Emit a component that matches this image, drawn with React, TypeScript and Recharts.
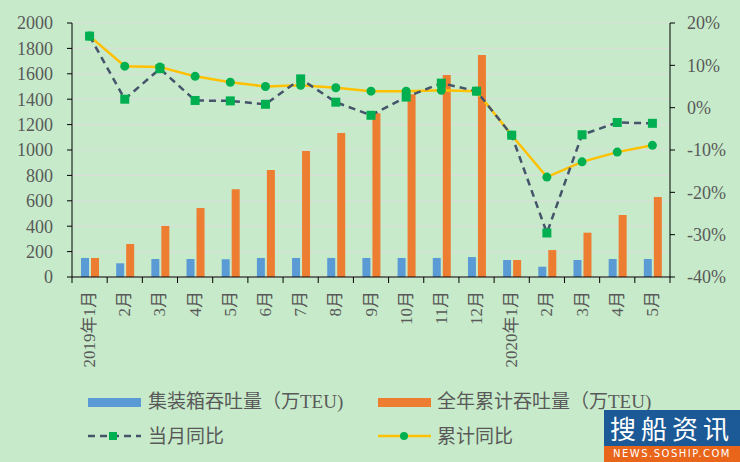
import React from "react";
import {
  ComposedChart, Bar, Line, XAxis, YAxis, CartesianGrid,
} from "recharts";

const months = [
  "2019年1月", "2月", "3月", "4月", "5月", "6月", "7月", "8月", "9月",
  "10月", "11月", "12月", "2020年1月", "2月", "3月", "4月", "5月",
];
// 集装箱吞吐量（万TEU）
const monthly = [150, 108, 142, 142, 140, 150, 150, 150, 150, 150, 150, 157, 134, 81, 134, 142, 142];
// 全年累计吞吐量（万TEU）
const cumulative = [150, 260, 402, 543, 690, 842, 992, 1134, 1290, 1438, 1590, 1748, 134, 212, 349, 488, 630];
// 当月同比 (%)
const monthYoy = [16.9, 2.0, 9.2, 1.7, 1.6, 0.8, 6.8, 1.3, -1.8, 2.5, 5.8, 3.9, -6.5, -29.6, -6.4, -3.5, -3.7];
// 累计同比 (%)
const cumYoy = [16.9, 9.8, 9.6, 7.4, 6.0, 5.0, 5.3, 4.7, 3.9, 3.9, 4.1, 3.9, -6.5, -16.4, -12.8, -10.5, -8.9];

const leftTicks = [0, 200, 400, 600, 800, 1000, 1200, 1400, 1600, 1800, 2000];
const rightTicks = [-40, -30, -20, -10, 0, 10, 20];

const data = months.map((m, i) => ({
  month: m,
  monthly: monthly[i],
  cumulative: cumulative[i],
  monthYoy: monthYoy[i],
  cumYoy: cumYoy[i],
}));

const W = 740;
const H = 462;
const LEFT_W = 72;
const RIGHT_W = 70;
const BAND = (W - LEFT_W - RIGHT_W) / months.length;
const FONT = "'Liberation Serif', 'Noto Sans CJK SC', serif";
const BG = "#C7EBCA";

const MonthTick = (props: any) => {
  const { x, y, payload, index } = props;
  const last = index === months.length - 1;
  return (
    <g>
      <line x1={x - BAND / 2} x2={x - BAND / 2} y1={y} y2={y + 6} stroke="#000" />
      {last && <line x1={x + BAND / 2} x2={x + BAND / 2} y1={y} y2={y + 6} stroke="#000" />}
      <text
        x={x}
        y={y + 14}
        transform={`rotate(-90, ${x}, ${y + 14})`}
        textAnchor="end"
        dominantBaseline="central"
        fontSize={17}
        fontFamily={FONT}
        fill="#595959"
      >
        {payload.value}
      </text>
    </g>
  );
};

const SquareDot = (props: any) => {
  const { cx, cy } = props;
  if (cx == null || cy == null) return null;
  return <rect x={cx - 4.5} y={cy - 4.5} width={9} height={9} fill="#00B050" />;
};

function LegendRow() {
  const txt = { fontSize: 19, fontFamily: FONT, fill: "#595959" };
  return (
    <svg width={W} height={70} style={{ position: "absolute", left: 0, top: 385 }}>
      <rect x={88} y={13} width={53} height={9} fill="#5B9BD5" />
      <text x={148} y={16} dominantBaseline="central" {...txt}>集装箱吞吐量（万TEU)</text>
      <rect x={378} y={13} width={53} height={9} fill="#ED7D31" />
      <text x={437} y={16} dominantBaseline="central" {...txt}>全年累计吞吐量（万TEU)</text>

      <line x1={88} x2={141} y1={51} y2={51} stroke="#44546A" strokeWidth={2.5} strokeDasharray="7 5" />
      <rect x={109} y={47} width={8} height={8} fill="#00B050" />
      <text x={148} y={51} dominantBaseline="central" {...txt}>当月同比</text>
      <line x1={378} x2={431} y1={51} y2={51} stroke="#FFC000" strokeWidth={2.5} />
      <circle cx={404} cy={51} r={4} fill="#00B050" />
      <text x={437} y={51} dominantBaseline="central" {...txt}>累计同比</text>
    </svg>
  );
}

function Watermark() {
  return (
    <div style={{ position: "absolute", left: 604, top: 410, width: 136, height: 52 }}>
      <div
        style={{
          height: 36, background: "#1B5A96", color: "#fff", fontSize: 26,
          fontFamily: "'Noto Sans CJK SC', sans-serif", lineHeight: "36px",
          textAlign: "center", letterSpacing: 5, overflow: "hidden",
        }}
      >
        搜船资讯
      </div>
      <div
        style={{
          height: 16, background: "#E8651A", color: "#fff", fontSize: 10,
          fontFamily: "'DejaVu Sans', sans-serif", lineHeight: "16px",
          textAlign: "center", letterSpacing: 1.5, overflow: "hidden",
        }}
      >
        NEWS.SOSHIP.COM
      </div>
    </div>
  );
}

export default function App() {
  return (
    <div style={{ position: "absolute", left: 0, top: 0, width: W, height: H, background: BG, overflow: "hidden" }}>
      <ComposedChart
        width={W}
        height={H}
        data={data}
        margin={{ top: 23, right: 0, bottom: 0, left: 0 }}
        barSize={8}
        barGap={2}
      >
        <CartesianGrid yAxisId="left" vertical={false} stroke="#D9DED9" strokeWidth={1.2} />
        <XAxis
          dataKey="month"
          interval={0}
          height={185}
          tickLine={false}
          tickSize={0}
          tickMargin={0}
          tick={<MonthTick />}
          axisLine={{ stroke: "#000" }}
        />
        <YAxis
          yAxisId="left"
          width={LEFT_W}
          domain={[0, 2000]}
          ticks={leftTicks}
          interval={0}
          tickSize={5}
          tickMargin={14}
          axisLine={{ stroke: "#000" }}
          tickLine={{ stroke: "#000" }}
          tick={{ fontSize: 18, fontFamily: FONT, fill: "#595959" }}
        />
        <YAxis
          yAxisId="right"
          orientation="right"
          width={RIGHT_W}
          domain={[-40, 20]}
          ticks={rightTicks}
          interval={0}
          tickSize={5}
          tickMargin={12}
          tickFormatter={(v: number) => `${v}%`}
          axisLine={{ stroke: "#000" }}
          tickLine={{ stroke: "#000" }}
          tick={{ fontSize: 18, fontFamily: FONT, fill: "#595959" }}
        />
        <Bar yAxisId="left" dataKey="monthly" name="集装箱吞吐量（万TEU)" fill="#5B9BD5" isAnimationActive={false} />
        <Bar yAxisId="left" dataKey="cumulative" name="全年累计吞吐量（万TEU)" fill="#ED7D31" isAnimationActive={false} />
        <Line
          yAxisId="right"
          dataKey="cumYoy"
          name="累计同比"
          stroke="#FFC000"
          strokeWidth={2.5}
          dot={{ r: 4.5, fill: "#00B050", stroke: "none" }}
          activeDot={false}
          isAnimationActive={false}
        />
        <Line
          yAxisId="right"
          dataKey="monthYoy"
          name="当月同比"
          stroke="#44546A"
          strokeWidth={2.5}
          strokeDasharray="7 5"
          dot={<SquareDot />}
          activeDot={false}
          isAnimationActive={false}
        />
      </ComposedChart>
      <LegendRow />
      <Watermark />
    </div>
  );
}
